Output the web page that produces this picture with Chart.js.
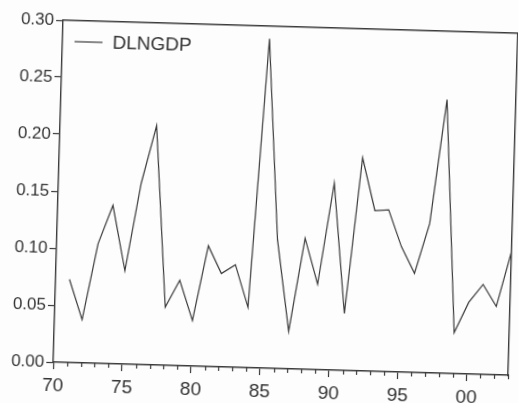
<!DOCTYPE html>
<html>
<head>
<meta charset="utf-8">
<script src="https://cdn.jsdelivr.net/npm/chart.js@4/dist/chart.umd.min.js"></script>
<style>
  html, body { margin: 0; padding: 0; background: #fdfdfd; overflow: hidden; }
  #chart { display: block; transform: rotate(1.65deg); transform-origin: 259px 201.5px; }
</style>
</head>
<body>
<canvas id="chart" width="518" height="403"></canvas>
<script>
const years = [1971, 1972, 1973, 1974, 1975, 1976, 1977, 1978, 1979, 1980,
  1981, 1982, 1983, 1984, 1985, 1986, 1987, 1988, 1989, 1990,
  1991, 1992, 1993, 1994, 1995, 1996, 1997, 1998, 1999, 2000,
  2001, 2002, 2003];
const dlngdp = [0.073, 0.038, 0.105, 0.139, 0.082, 0.159, 0.210, 0.051, 0.075, 0.040,
  0.106, 0.082, 0.090, 0.053, 0.289, 0.113, 0.033, 0.115, 0.075, 0.164,
  0.050, 0.187, 0.141, 0.142, 0.110, 0.087, 0.131, 0.240, 0.036, 0.063,
  0.079, 0.060, 0.109];
const yTicks = [0.00, 0.05, 0.10, 0.15, 0.20, 0.25, 0.30];
const seriesName = "DLNGDP";

const ink = "#3a3a3a";
const font = "'Liberation Sans', Arial, sans-serif";

// short ticks for the in-between years
const minorTicks = {
  id: "minorTicks",
  afterDraw(chart) {
    const x = chart.scales.x;
    const ctx = chart.ctx;
    ctx.save();
    ctx.strokeStyle = ink;
    ctx.lineWidth = 1.2;
    for (let yr = 1970; yr <= 2003; yr++) {
      if (yr % 5 === 0) continue;
      const px = Math.round(x.getPixelForValue(yr)) + 0.5;
      ctx.beginPath();
      ctx.moveTo(px, x.top);
      ctx.lineTo(px, x.top + 4);
      ctx.stroke();
    }
    ctx.restore();
  }
};

// EViews style legend sitting inside the plot box
const boxLegend = {
  id: "boxLegend",
  afterDraw(chart) {
    const area = chart.chartArea;
    const ds = chart.data.datasets[0];
    const ctx = chart.ctx;
    const y = area.top + 21;
    ctx.save();
    ctx.strokeStyle = ds.borderColor;
    ctx.lineWidth = ds.borderWidth;
    ctx.beginPath();
    ctx.moveTo(area.left + 12, y);
    ctx.lineTo(area.left + 40, y);
    ctx.stroke();
    ctx.fillStyle = "#333";
    ctx.font = "19px " + font;
    ctx.textBaseline = "middle";
    ctx.fillText(ds.label, area.left + 50, y + 1);
    ctx.restore();
  }
};

new Chart(document.getElementById("chart"), {
  type: "line",
  data: {
    datasets: [
      {
        label: seriesName,
        data: years.map((yr, i) => ({ x: yr, y: dlngdp[i] })),
        borderColor: ink,
        borderWidth: 1.2,
        pointRadius: 0,
        tension: 0,
        fill: false,
      },
    ],
  },
  options: {
    responsive: false,
    animation: false,
    layout: { padding: { top: 26, right: 5, left: 0, bottom: 0 } },
    plugins: {
      tooltip: { enabled: false },
      legend: { display: false },
    },
    scales: {
      x: {
        type: "linear",
        min: 1970,
        max: 2003,
        afterFit: (s) => { s.height = 35; },
        afterBuildTicks: (s) => {
          s.ticks = [1970, 1975, 1980, 1985, 1990, 1995, 2000].map((v) => ({ value: v }));
        },
        ticks: {
          autoSkip: false,
          maxRotation: 0,
          padding: 5,
          color: "#333",
          font: { family: font, size: 19 },
          callback: (v) => String(v % 100).padStart(2, "0"),
        },
        grid: { drawOnChartArea: false, tickLength: 7, tickWidth: 1.2, tickColor: ink },
        border: { color: ink, width: 1.4 },
      },
      y: {
        min: 0,
        max: 0.3,
        afterFit: (s) => { s.width = 58; },
        afterBuildTicks: (s) => { s.ticks = yTicks.map((v) => ({ value: v })); },
        ticks: {
          padding: 2,
          color: "#333",
          font: { family: font, size: 17 },
          callback: (v) => v.toFixed(2),
        },
        grid: { drawOnChartArea: false, tickLength: 7, tickWidth: 1.2, tickColor: ink },
        border: { color: ink, width: 1.4 },
      },
      xTop: {
        type: "linear",
        position: "top",
        min: 1970,
        max: 2003,
        afterFit: (s) => { s.height = 0; },
        ticks: { display: false },
        grid: { display: false },
        border: { color: ink, width: 1.4 },
      },
      yRight: {
        position: "right",
        min: 0,
        max: 0.3,
        afterFit: (s) => { s.width = 0; },
        ticks: { display: false },
        grid: { display: false },
        border: { color: ink, width: 1.4 },
      },
    },
  },
  plugins: [minorTicks, boxLegend],
});
</script>
</body>
</html>
